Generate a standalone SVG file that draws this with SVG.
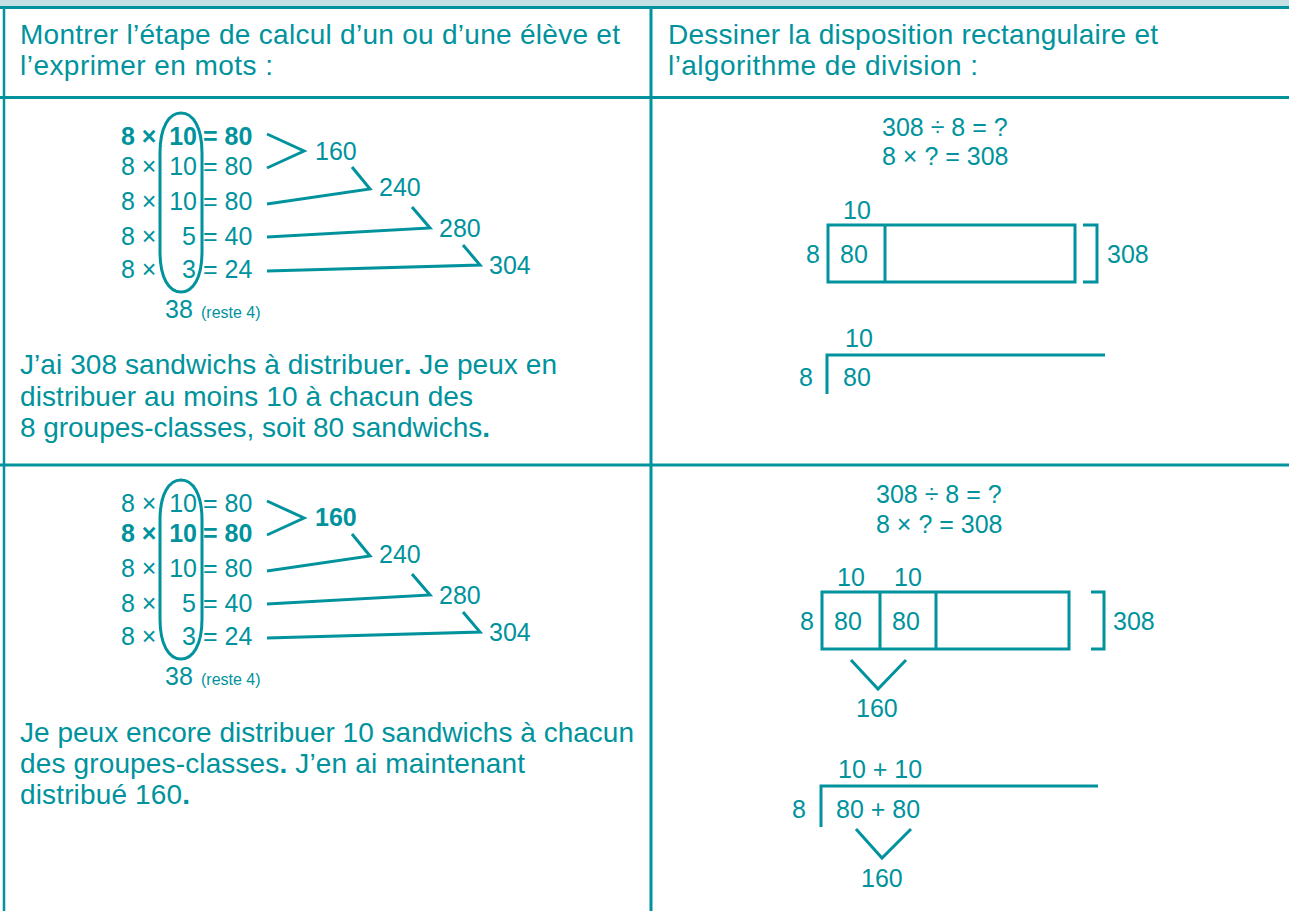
<svg xmlns="http://www.w3.org/2000/svg" width="1289" height="911" viewBox="0 0 1289 911">
  <style>
    text { font-family: "Liberation Sans", Arial, sans-serif; fill: #00939d; }
    .t { font-size: 28px; }
    .n { font-size: 25px; }
    .b { font-weight: bold; }
    .s { font-size: 16px; }
    .grid { stroke: #00939d; stroke-width: 3; fill: none; }
    .ln { stroke: #00939d; stroke-width: 3; fill: none; stroke-linejoin: miter; }
  </style>

  <defs>
    <!-- tall loop round the column of multipliers -->
    <path id="loop" d="M160,153 C160,127 169,113 181,113 C193,113 202,127 202,153 L202,252 C202,278 193,292 181,292 C169,292 160,278 160,252 Z"/>
  </defs>

  <!-- table frame -->
  <g id="table">
    <rect x="0" y="0" width="1289" height="6" fill="#c5e0e5"/>
    <line class="grid" x1="0" y1="7.5" x2="1289" y2="7.5"/>
    <line class="grid" x1="4" y1="7" x2="4" y2="911" style="stroke-width:2.5"/>
    <line class="grid" x1="651" y1="7" x2="651" y2="911"/>
    <line class="grid" x1="0" y1="97.5" x2="1289" y2="97.5"/>
    <line class="grid" x1="0" y1="465" x2="1289" y2="465"/>
  </g>

  <!-- column headings -->
  <g id="head-left">
    <text class="t" x="20" y="44" textLength="600">Montrer l’étape de calcul d’un ou d’une élève et</text>
    <text class="t" x="20" y="75" textLength="253">l’exprimer en mots :</text>
  </g>
  <g id="head-right">
    <text class="t" x="668" y="44" textLength="490">Dessiner la disposition rectangulaire et</text>
    <text class="t" x="668" y="75" textLength="310">l’algorithme de division :</text>
  </g>

  <!-- step 1: partial products -->
  <g id="calc-1">
    <use href="#loop" class="ln"/>
    <text class="n b" x="121" y="145">8 ×</text>
    <text class="n b" x="197" y="145" text-anchor="end">10</text>
    <text class="n b" x="203" y="145">= 80</text>
    <text class="n" x="121" y="175">8 ×</text>
    <text class="n" x="197" y="175" text-anchor="end">10</text>
    <text class="n" x="203" y="175">= 80</text>
    <text class="n" x="121" y="210">8 ×</text>
    <text class="n" x="197" y="210" text-anchor="end">10</text>
    <text class="n" x="203" y="210">= 80</text>
    <text class="n" x="121" y="245">8 ×</text>
    <text class="n" x="196" y="245" text-anchor="end">5</text>
    <text class="n" x="203" y="245">= 40</text>
    <text class="n" x="121" y="278">8 ×</text>
    <text class="n" x="196" y="278" text-anchor="end">3</text>
    <text class="n" x="203" y="278">= 24</text>
    <text class="n" x="165" y="318">38</text>
    <text class="s" x="201" y="318">(reste 4)</text>
    <text class="n" x="315" y="160">160</text>
    <text class="n" x="379" y="196">240</text>
    <text class="n" x="439" y="237">280</text>
    <text class="n" x="489" y="274">304</text>
  </g>

  <g id="text-1">
    <text class="t" x="20" y="374" textLength="537">J’ai 308 sandwichs à distribuer<tspan class="b">.</tspan> Je peux en</text>
    <text class="t" x="20" y="406" textLength="453">distribuer au moins 10 à chacun des</text>
    <text class="t" x="20" y="437" textLength="470">8 groupes-classes, soit 80 sandwichs<tspan class="b">.</tspan></text>
  </g>

  <!-- step 1: rectangle model and division -->
  <g id="model-1">
    <text class="n" x="882" y="136">308 ÷ 8 = ?</text>
    <text class="n" x="882" y="165">8 × ? = 308</text>
    <text class="n" x="843" y="219">10</text>
    <rect class="ln" x="828" y="225" width="247" height="57"/>
    <line class="ln" x1="885" y1="225" x2="885" y2="282"/>
    <text class="n" x="806" y="263">8</text>
    <text class="n" x="840" y="263">80</text>
    <text class="n" x="1107" y="263">308</text>
  </g>
  <g id="division-1">
    <text class="n" x="845" y="347">10</text>
    <text class="n" x="799" y="386">8</text>
    <text class="n" x="843" y="386">80</text>
  </g>

  <!-- step 2: partial products -->
  <g id="calc-2">
    <use href="#loop" class="ln" transform="translate(0,367)"/>
    <text class="n" x="121" y="512">8 ×</text>
    <text class="n" x="197" y="512" text-anchor="end">10</text>
    <text class="n" x="203" y="512">= 80</text>
    <text class="n b" x="121" y="542">8 ×</text>
    <text class="n b" x="197" y="542" text-anchor="end">10</text>
    <text class="n b" x="203" y="542">= 80</text>
    <text class="n" x="121" y="577">8 ×</text>
    <text class="n" x="197" y="577" text-anchor="end">10</text>
    <text class="n" x="203" y="577">= 80</text>
    <text class="n" x="121" y="612">8 ×</text>
    <text class="n" x="196" y="612" text-anchor="end">5</text>
    <text class="n" x="203" y="612">= 40</text>
    <text class="n" x="121" y="645">8 ×</text>
    <text class="n" x="196" y="645" text-anchor="end">3</text>
    <text class="n" x="203" y="645">= 24</text>
    <text class="n" x="165" y="685">38</text>
    <text class="s" x="201" y="685">(reste 4)</text>
    <text class="n b" x="315" y="526">160</text>
    <text class="n" x="379" y="563">240</text>
    <text class="n" x="439" y="604">280</text>
    <text class="n" x="489" y="641">304</text>
  </g>

  <g id="text-2">
    <text class="t" x="20" y="742" textLength="614">Je peux encore distribuer 10 sandwichs à chacun</text>
    <text class="t" x="20" y="773" textLength="505">des groupes-classes<tspan class="b">.</tspan> J’en ai maintenant</text>
    <text class="t" x="20" y="804" textLength="170">distribué 160<tspan class="b">.</tspan></text>
  </g>

  <!-- step 2: rectangle model and division -->
  <g id="model-2">
    <text class="n" x="876" y="503">308 ÷ 8 = ?</text>
    <text class="n" x="876" y="533">8 × ? = 308</text>
    <text class="n" x="837" y="586">10</text>
    <text class="n" x="894" y="586">10</text>
    <rect class="ln" x="822" y="592" width="247" height="57"/>
    <line class="ln" x1="880" y1="592" x2="880" y2="649"/>
    <line class="ln" x1="936" y1="592" x2="936" y2="649"/>
    <text class="n" x="800" y="630">8</text>
    <text class="n" x="834" y="630">80</text>
    <text class="n" x="892" y="630">80</text>
    <text class="n" x="1113" y="630">308</text>
    <text class="n" x="856" y="717">160</text>
  </g>
  <g id="division-2">
    <text class="n" x="838" y="778">10 + 10</text>
    <text class="n" x="792" y="818">8</text>
    <text class="n" x="836" y="818">80 + 80</text>
    <text class="n" x="861" y="887">160</text>
  </g>

  <!-- connectors: sums, brackets and division bars -->
  <g id="connectors" class="ln">
    <path d="M267,134 L304,151 L267,168"/>
    <path d="M352,167 L370,189 L267,204"/>
    <path d="M412,207 L430,228 L267,237"/>
    <path d="M463,245 L480,265 L267,271"/>

    <path d="M267,501 L304,518 L267,535"/>
    <path d="M352,534 L370,556 L267,571"/>
    <path d="M412,574 L430,595 L267,604"/>
    <path d="M463,612 L480,632 L267,638"/>

    <path d="M1083,225 L1097,225 L1097,282 L1083,282"/>
    <path d="M827,394 L827,355 L1105,355"/>

    <path d="M1091,592 L1104,592 L1104,649 L1091,649"/>
    <path d="M851,660 L878,689 L906,660"/>
    <path d="M821,827 L821,786 L1098,786"/>
    <path d="M856,829 L882,858 L911,829"/>
  </g>
</svg>
